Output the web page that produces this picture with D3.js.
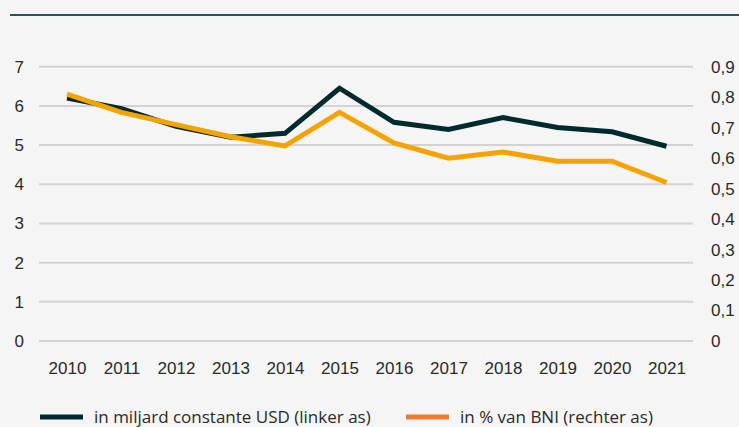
<!DOCTYPE html>
<html>
<head>
<meta charset="utf-8">
<script src="https://cdn.jsdelivr.net/npm/d3@7"></script>
<style>
  body { margin: 0; background: #f5f5f5; }
  svg { display: block; font-family: "Open Sans", sans-serif; }
  .tick text { fill: #2a2a2a; font-size: 17px; }
  .legend text { fill: #2a2a2a; font-size: 17px; }
</style>
</head>
<body>
<svg width="739" height="427"></svg>
<script>
// years on the x axis
var years = [2010, 2011, 2012, 2013, 2014, 2015, 2016, 2017, 2018, 2019, 2020, 2021];
// billion constant USD (left axis)
var usd = [6.2, 5.93, 5.48, 5.2, 5.3, 6.45, 5.58, 5.4, 5.7, 5.45, 5.34, 4.97];
// % of GNI (right axis)
var pctBni = [0.81, 0.75, 0.71, 0.67, 0.64, 0.75, 0.65, 0.60, 0.62, 0.59, 0.59, 0.52];
var leftTicks = [0, 1, 2, 3, 4, 5, 6, 7];
var rightTicks = [0, 0.1, 0.2, 0.3, 0.4, 0.5, 0.6, 0.7, 0.8, 0.9];
var legendLabels = ["in miljard constante USD (linker as)", "in % van BNI (rechter as)"];

var svg = d3.select("svg");

// top rule
svg.append("line")
  .attr("x1", 10).attr("x2", 739)
  .attr("y1", 15).attr("y2", 15)
  .attr("stroke", "#2d5258")
  .attr("stroke-width", 2);

var xScale = d3.scalePoint()
  .domain(years)
  .range([67, 666.5]);

var yLeft = d3.scaleLinear().domain([0, 7]).range([341, 66.7]);
var yRight = d3.scaleLinear().domain([0, 0.9]).range([341, 66.7]);

// gridlines
svg.selectAll("line.grid").data(leftTicks)
  .enter()
  .append("line")
  .attr("class", "grid")
  .attr("x1", 39).attr("x2", 693)
  .attr("y1", function (d) { return yLeft(d); })
  .attr("y2", function (d) { return yLeft(d); })
  .attr("stroke", "#d3d3d3")
  .attr("stroke-width", 2);

// left axis
var leftAxis = svg.append("g")
  .attr("transform", "translate(24,0)")
  .call(d3.axisLeft(yLeft).tickValues(leftTicks).tickSize(0).tickPadding(0).tickFormat(d3.format("d")));
leftAxis.select(".domain").remove();

// right axis
var rightAxis = svg.append("g")
  .attr("transform", "translate(711,0)")
  .call(d3.axisRight(yRight).tickValues(rightTicks).tickSize(0).tickPadding(0)
    .tickFormat(function (d) { return d === 0 ? "0" : d3.format(".1f")(d).replace(".", ","); }));
rightAxis.select(".domain").remove();

// bottom axis
var bottomAxis = svg.append("g")
  .attr("transform", "translate(0,362)")
  .call(d3.axisBottom(xScale).tickSize(0).tickPadding(0));
bottomAxis.select(".domain").remove();
bottomAxis.selectAll("text").attr("dy", "0.71em");

// lines
var usdLine = d3.line()
  .x(function (d, i) { return xScale(years[i]); })
  .y(function (d) { return yLeft(d); });
var pctLine = d3.line()
  .x(function (d, i) { return xScale(years[i]); })
  .y(function (d) { return yRight(d); });

svg.append("path")
  .datum(usd)
  .attr("d", usdLine)
  .attr("fill", "none")
  .attr("stroke", "#012a2f")
  .attr("stroke-width", 5);

svg.append("path")
  .datum(pctBni)
  .attr("d", pctLine)
  .attr("fill", "none")
  .attr("stroke", "#f5a300")
  .attr("stroke-width", 5);

// legend
var legendColors = ["#012a2f", "#ef7d2f"];
var legendX = [40, 406];
var legend = svg.selectAll("g.legend").data(legendLabels)
  .enter()
  .append("g")
  .attr("class", "legend")
  .attr("transform", function (d, i) { return "translate(" + legendX[i] + ",417)"; });
legend.append("rect")
  .attr("x", 0).attr("y", -2.5)
  .attr("width", 43).attr("height", 5)
  .attr("fill", function (d, i) { return legendColors[i]; });
legend.append("text")
  .attr("x", 54).attr("y", 0)
  .attr("dy", "0.35em")
  .text(function (d) { return d; });
</script>
</body>
</html>
